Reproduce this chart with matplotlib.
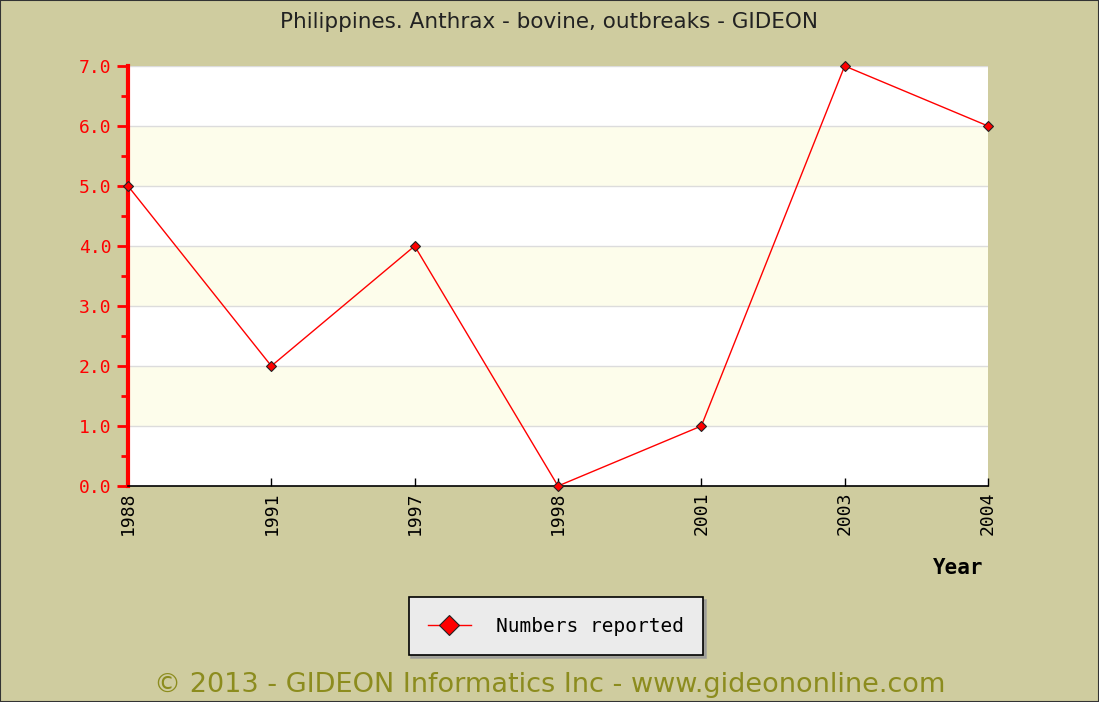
import matplotlib
matplotlib.use('Agg')
import matplotlib.pyplot as plt
from matplotlib.patches import Rectangle

# data
years = ['1988', '1991', '1997', '1998', '2001', '2003', '2004']
reported = [5, 2, 4, 0, 1, 7, 6]

bg = '#cfcc9f'
fig = plt.figure(figsize=(10.99, 7.02), dpi=100, facecolor=bg)
ax = fig.add_axes([128 / 1099, 1 - 486 / 702, 860 / 1099, 420 / 702])
ax.set_facecolor('white')

# alternating bands + grid
for lo in range(7):
    if lo % 2 == 1:
        ax.axhspan(lo, lo + 1, color='#fdfdeb', zorder=0, lw=0)
    ax.axhline(lo + 1, color='#dcdcdc', lw=1, zorder=1)

xs = list(range(len(years)))
ax.plot(xs, reported, color='red', lw=1, marker='D', markersize=5,
        markerfacecolor='red', markeredgecolor='#222222', markeredgewidth=0.8,
        zorder=3, label='Numbers reported', clip_on=False)

ax.set_xlim(0, len(years) - 1)
ax.set_ylim(0, 7)
ax.set_xticks(xs)
ax.set_xticklabels(years, rotation=90, fontsize=13, family='DejaVu Sans Mono')
ax.set_yticks(range(8))
ax.set_yticklabels([f'{v:.1f}' for v in range(8)], fontsize=13,
                   family='DejaVu Sans Mono', color='red')
ax.set_yticks([v + 0.5 for v in range(7)], minor=True)

ax.tick_params(axis='y', which='major', colors='red', length=8, width=2, direction='out', pad=4)
ax.tick_params(axis='y', which='minor', colors='red', length=5, width=2, direction='out')
ax.tick_params(axis='x', which='major', colors='black', length=6, width=1, direction='in', pad=4)
for lbl in ax.get_yticklabels():
    lbl.set_color('red')

ax.spines['left'].set_color('red')
ax.spines['left'].set_linewidth(3)
ax.spines['bottom'].set_color('black')
ax.spines['bottom'].set_linewidth(1.2)
ax.spines['top'].set_visible(False)
ax.spines['right'].set_visible(False)

fig.text(0.5, 1 - 22 / 702, 'Philippines. Anthrax - bovine, outbreaks - GIDEON',
         ha='center', va='center', fontsize=15.5, color='#222222')
fig.text(958 / 1099, 1 - 568 / 702, 'Year', ha='center', va='center',
         fontsize=15, fontweight='bold', family='DejaVu Sans Mono')

leg = fig.legend(loc='center', bbox_to_anchor=(556 / 1099, 1 - 626 / 702),
                 prop={'family': 'DejaVu Sans Mono', 'size': 14},
                 facecolor='#ebebeb', edgecolor='black', fancybox=False,
                 shadow={'color': '#999999', 'alpha': 0.8}, framealpha=1,
                 borderpad=1.0, borderaxespad=0, handlelength=2.2,
                 handletextpad=1.3, markerscale=2.0)
leg.get_frame().set_linewidth(1.2)

fig.text(0.5, 1 - 685 / 702, '\u00a9 2013 - GIDEON Informatics Inc - www.gideononline.com',
         ha='center', va='center', fontsize=19.5, color='#8c8c1e')

# outer border
fig.patches.append(Rectangle((0, 0), 1, 1, transform=fig.transFigure, fill=False,
                             edgecolor='#333333', lw=1.5))

fig.savefig('out.png', dpi=100, facecolor=bg)
